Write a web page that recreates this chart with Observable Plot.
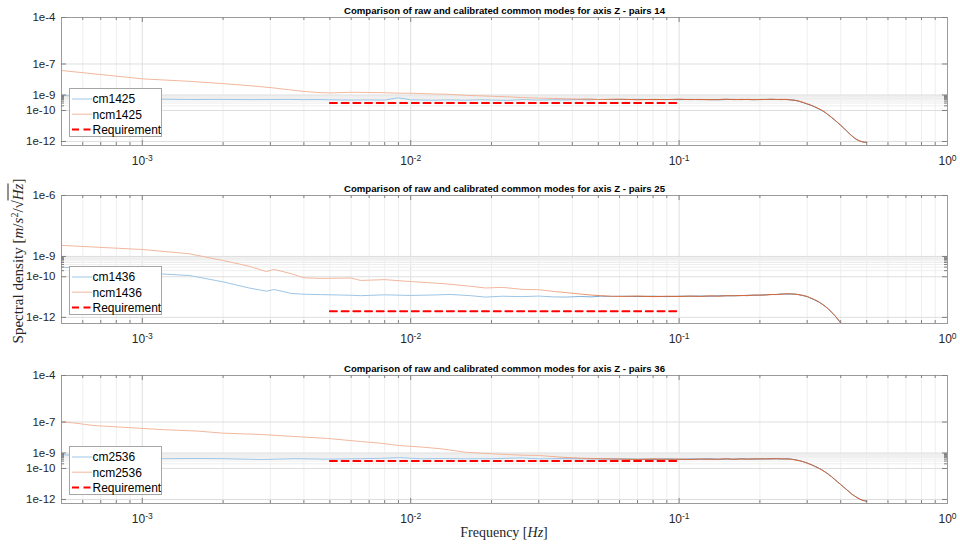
<!DOCTYPE html>
<html>
<head>
<meta charset="utf-8">
<script src="https://cdn.jsdelivr.net/npm/d3@7"></script>
<script src="https://cdn.jsdelivr.net/npm/@observablehq/plot@0.6"></script>
<style>
  body { margin: 0; background: #fff; }
  #fig { position: relative; width: 960px; height: 546px; overflow: hidden; background: #fff;
         font-family: "Liberation Sans", Arial, Helvetica, sans-serif; }
  .panel { position: absolute; left: 0; }
  .tex { position: absolute; font-family: "Liberation Serif", "Times New Roman", serif; font-size: 14px;
         color: #262626; white-space: nowrap; line-height: 1; }
  .tex sup { font-size: 10px; line-height: 0; vertical-align: 5px; }
  .ov { border-top: 1px solid #262626; padding-top: 1px; }
</style>
</head>
<body>
<div id="fig"></div>
<script>
// ---------------- data ----------------
const titles = [
  "Comparison of raw and calibrated common modes for axis Z - pairs 14",
  "Comparison of raw and calibrated common modes for axis Z - pairs 25",
  "Comparison of raw and calibrated common modes for axis Z - pairs 36"
];
const seriesNames = [["cm1425", "ncm1425"], ["cm1436", "ncm1436"], ["cm2536", "ncm2536"]];

const freq14 = [0.0005,0.001,0.0015,0.002,0.0025,0.003,0.0035,0.004,0.0045,0.005,0.006,0.007,0.008,0.009,0.010,0.012,0.014,0.016,0.018,0.020,0.023,0.026,0.030,0.034,0.038,0.042,0.046,0.050,0.06,0.07,0.08,0.09,0.10,0.11,0.12,0.13,0.14,0.15,0.16,0.17,0.18,0.19,0.20,0.21,0.22,0.23,0.24,0.25,0.26,0.27,0.28,0.29,0.30,0.31,0.32,0.33,0.34,0.35,0.36,0.37,0.38,0.39,0.40,0.41,0.42,0.43,0.44,0.45,0.46,0.47,0.48,0.49,0.50];
const ncm1425 = [3.8e-8,1.1e-8,7.6e-9,5.4e-9,4.0e-9,3.0e-9,2.2e-9,1.7e-9,1.45e-9,1.35e-9,1.5e-9,1.45e-9,1.4e-9,1.3e-9,1.3e-9,1.17e-9,1.1e-9,9.5e-10,8.9e-10,8.3e-10,7.6e-10,6.8e-10,6.3e-10,6.0e-10,5.6e-10,5.4e-10,5.5e-10,5.1e-10,
  5.4e-10,4.9e-10,5.2e-10,5.0e-10,5.4e-10,
  5.0e-10,5.2e-10,4.9e-10,5.1e-10,5.4e-10,5.0e-10,5.2e-10,5.1e-10,4.9e-10,5.2e-10,5.1e-10,5.4e-10,5.1e-10,5.2e-10,5.1e-10,
  4.9e-10,4.6e-10,4.0e-10,3.3e-10,2.7e-10,2.2e-10,1.74e-10,1.35e-10,1.05e-10,7.6e-11,5.2e-11,3.6e-11,2.45e-11,1.66e-11,1.12e-11,7.6e-12,5.0e-12,3.4e-12,2.35e-12,1.7e-12,1.32e-12,1.1e-12,9.8e-13,9.1e-13,8.9e-13];
const cm1425 = [9.3e-10,5.6e-10,5.1e-10,5.2e-10,5.0e-10,5.1e-10,5.2e-10,5.0e-10,5.1e-10,4.9e-10,4.7e-10,4.8e-10,4.7e-10,6.6e-10,4.9e-10,4.6e-10,4.8e-10,4.6e-10,4.9e-10,4.7e-10,4.5e-10,5.0e-10,4.7e-10,4.9e-10,4.8e-10,5.0e-10,4.9e-10,5.1e-10,
  5.1e-10,5.2e-10,5.0e-10,5.1e-10,5.0e-10,
  5.2e-10,5.0e-10,5.1e-10,4.9e-10,5.1e-10,5.2e-10,5.0e-10,5.2e-10,5.1e-10,5.0e-10,5.2e-10,5.1e-10,5.2e-10,5.0e-10,5.2e-10,
  4.8e-10,4.5e-10,3.9e-10,3.2e-10,2.6e-10,2.15e-10,1.7e-10,1.32e-10,1.02e-10,7.4e-11,5.1e-11,3.5e-11,2.4e-11,1.62e-11,1.1e-11,7.4e-12,4.9e-12,3.3e-12,2.3e-12,1.66e-12,1.29e-12,1.07e-12,9.5e-13,8.9e-13,8.7e-13];

const freq25 = [0.0005,0.001,0.0015,0.002,0.0025,0.0029,0.0031,0.0036,0.004,0.0046,0.006,0.0065,0.008,0.010,0.012,0.014,0.0167,0.019,0.022,0.026,0.030,0.034,0.038,0.043,0.047,0.051,0.056,0.06,0.07,0.08,0.09,0.10,0.11,0.12,0.13,0.14,0.15,0.16,0.17,0.18,0.19,0.20,0.21,0.22,0.23,0.24,0.25,0.26,0.27,0.28,0.29,0.30,0.31,0.32,0.33,0.34,0.35,0.36,0.37,0.38,0.39,0.40,0.41,0.42,0.43,0.44,0.45,0.46,0.47,0.48,0.49,0.50];
const ncm1436 = [3.5e-9,2.2e-9,1.35e-9,6.3e-10,3.3e-10,1.8e-10,2.3e-10,1.4e-10,8.9e-11,8.3e-11,8.7e-11,6.6e-11,7.2e-11,5.8e-11,5.0e-11,4.3e-11,3.4e-11,2.8e-11,3.0e-11,2.4e-11,2.3e-11,1.9e-11,1.66e-11,1.4e-11,1.26e-11,1.17e-11,1.1e-11,
  1.07e-11,1.12e-11,1.05e-11,1.1e-11,1.07e-11,
  1.12e-11,1.07e-11,1.15e-11,1.1e-11,1.17e-11,1.15e-11,1.2e-11,1.17e-11,1.26e-11,1.23e-11,1.29e-11,1.32e-11,1.35e-11,1.38e-11,1.45e-11,
  1.45e-11,1.38e-11,1.32e-11,1.2e-11,1.07e-11,8.9e-12,7.4e-12,6.0e-12,4.7e-12,3.5e-12,2.6e-12,1.8e-12,1.26e-12,8.3e-13,5.4e-13,3.5e-13,2.3e-13,1.5e-13,1.0e-13,6.3e-14,4.5e-14,3.2e-14,2.5e-14,2.0e-14,1.8e-14];
const cm1436 = [3.0e-10,1.55e-10,1.15e-10,5.6e-11,2.8e-11,1.95e-11,2.35e-11,1.5e-11,1.38e-11,1.32e-11,1.23e-11,1.17e-11,1.29e-11,1.2e-11,1.26e-11,1.35e-11,1.17e-11,1.0e-11,1.1e-11,1.05e-11,1.12e-11,1.02e-11,1.0e-11,1.07e-11,1.02e-11,1.1e-11,1.07e-11,
  1.1e-11,1.07e-11,1.1e-11,1.05e-11,1.1e-11,
  1.1e-11,1.12e-11,1.1e-11,1.15e-11,1.15e-11,1.17e-11,1.17e-11,1.23e-11,1.23e-11,1.26e-11,1.26e-11,1.35e-11,1.32e-11,1.41e-11,1.41e-11,
  1.41e-11,1.41e-11,1.29e-11,1.17e-11,1.05e-11,8.7e-12,7.2e-12,5.9e-12,4.6e-12,3.5e-12,2.6e-12,1.78e-12,1.23e-12,8.1e-13,5.2e-13,3.4e-13,2.2e-13,1.5e-13,1.0e-13,6.2e-14,4.4e-14,3.1e-14,2.5e-14,2.0e-14,1.8e-14];

const freq36 = [0.0005,0.00055,0.00066,0.0009,0.0012,0.0016,0.002,0.0028,0.0037,0.0049,0.0065,0.0077,0.0091,0.011,0.013,0.016,0.020,0.026,0.030,0.036,0.043,0.051,0.06,0.07,0.08,0.09,0.10,0.11,0.12,0.13,0.14,0.15,0.16,0.17,0.18,0.19,0.20,0.21,0.22,0.23,0.24,0.25,0.26,0.27,0.28,0.29,0.30,0.31,0.32,0.33,0.34,0.35,0.36,0.37,0.38,0.39,0.40,0.41,0.42,0.43,0.44,0.45,0.46,0.47,0.48,0.49,0.50];
const ncm2536 = [9.8e-8,8.9e-8,5.9e-8,4.3e-8,3.2e-8,2.6e-8,1.9e-8,1.55e-8,1.15e-8,8.7e-9,5.5e-9,4.3e-9,3.0e-9,2.4e-9,1.86e-9,1.12e-9,8.9e-10,7.2e-10,6.9e-10,5.4e-10,4.6e-10,4.3e-10,
  4.0e-10,3.8e-10,4.1e-10,3.9e-10,4.0e-10,
  3.8e-10,4.1e-10,3.9e-10,4.0e-10,4.2e-10,3.9e-10,4.1e-10,4.0e-10,4.2e-10,4.1e-10,4.2e-10,4.1e-10,4.3e-10,4.2e-10,4.1e-10,
  4.0e-10,3.6e-10,3.2e-10,2.7e-10,2.2e-10,1.78e-10,1.38e-10,1.07e-10,8.1e-11,5.9e-11,4.2e-11,2.9e-11,1.95e-11,1.32e-11,9.1e-12,6.3e-12,4.4e-12,3.1e-12,2.2e-12,1.7e-12,1.32e-12,1.07e-12,9.1e-13,8.1e-13,7.8e-13];
const cm2536 = [7.9e-10,6.9e-10,5.4e-10,4.5e-10,4.3e-10,4.4e-10,4.3e-10,3.8e-10,4.3e-10,4.0e-10,4.3e-10,4.5e-10,5.0e-10,4.2e-10,4.4e-10,4.2e-10,4.3e-10,4.8e-10,4.2e-10,4.3e-10,4.2e-10,4.1e-10,
  4.1e-10,4.0e-10,3.9e-10,4.1e-10,3.9e-10,
  4.1e-10,4.0e-10,4.2e-10,3.9e-10,4.1e-10,4.0e-10,4.2e-10,4.1e-10,4.0e-10,4.2e-10,4.1e-10,4.3e-10,4.2e-10,4.1e-10,4.2e-10,
  4.1e-10,3.7e-10,3.2e-10,2.75e-10,2.25e-10,1.8e-10,1.4e-10,1.1e-10,8.3e-11,6.0e-11,4.3e-11,3.0e-11,2.0e-11,1.35e-11,9.3e-12,6.5e-12,4.5e-12,3.2e-12,2.25e-12,1.72e-12,1.35e-12,1.1e-12,9.3e-13,8.3e-13,8.0e-13];

const reqFreq = [0.005, 0.1];
const reqLevels = [3e-10, 2e-12, 3e-10];

const xDomain = [5e-4, 1];
const yDomains = [[5.5e-13, 1e-4], [5e-13, 1e-6], [5.5e-13, 1e-4]];
const yTickSets = [[1e-12, 1e-10, 1e-9, 1e-7, 1e-4], [1e-12, 1e-10, 1e-9, 1e-6], [1e-12, 1e-10, 1e-9, 1e-7, 1e-4]];
const xTickLabels = [1e-3, 1e-2, 1e-1, 1];
const xMinor = [6e-4,7e-4,8e-4,9e-4,2e-3,3e-3,4e-3,5e-3,6e-3,7e-3,8e-3,9e-3,2e-2,3e-2,4e-2,5e-2,6e-2,7e-2,8e-2,9e-2,0.2,0.3,0.4,0.5,0.6,0.7,0.8,0.9];
const xMajor = [1e-3, 1e-2, 1e-1];
const yMinor = [2e-10,3e-10,4e-10,5e-10,6e-10,7e-10,8e-10,9e-10];

// ---------------- drawing ----------------
// colours: thin MATLAB lines look pale where sparse and dark where the PSD noise is dense
const BLUE_LIGHT = "#9cc5e6", BLUE_DARK = "#4f8fc8";
const ORANGE_LIGHT = "#f2b69c", ORANGE_DARK = "#db6631";
const panels = [
  {freq: freq14, cm: cm1425, ncm: ncm1425},
  {freq: freq25, cm: cm1436, ncm: ncm1436},
  {freq: freq36, cm: cm2536, ncm: ncm2536}
];
const fig = document.getElementById("fig");
const W = 960, MT = 17, MB = 33, ML = 61, MR = 13, PH = 128;
const H = MT + PH + MB, PW = W - ML - MR;
const tops = [0, 178, 358];
const axisGray = "#262626", frameGray = "#9b9b9b", tickGray = "#808080";

function gradientDefs(k) {
  return () => {
    const defs = d3.create("svg:defs");
    const mk = (id, light, dark) => {
      const g = defs.append("linearGradient").attr("id", id);
      g.append("stop").attr("offset", "0").attr("stop-color", light);
      g.append("stop").attr("offset", "0.6").attr("stop-color", light);
      g.append("stop").attr("offset", "0.72").attr("stop-color", dark);
      g.append("stop").attr("offset", "1").attr("stop-color", dark);
    };
    mk("bgrad" + k, BLUE_LIGHT, BLUE_DARK);
    mk("ograd" + k, ORANGE_LIGHT, ORANGE_DARK);
    return defs.node();
  };
}

panels.forEach((p, k) => {
  const cmRows = p.freq.map((f, i) => ({f, v: p.cm[i]}));
  const ncmRows = p.freq.map((f, i) => ({f, v: p.ncm[i]}));
  const reqRows = reqFreq.map(f => ({f, v: reqLevels[k]}));
  const yT = yTickSets[k];
  const svg = Plot.plot({
    width: W, height: H,
    marginTop: MT, marginBottom: MB, marginLeft: ML, marginRight: MR,
    style: {fontFamily: "'Liberation Sans', Arial, sans-serif", background: "white"},
    x: {type: "log", domain: xDomain, label: null},
    y: {type: "log", domain: yDomains[k], label: null},
    marks: [
      gradientDefs(k),
      Plot.ruleX(xMinor, {x: d => d, stroke: "#efefef"}),
      Plot.ruleX(xMajor, {x: d => d, stroke: "#dedede"}),
      Plot.ruleY(yMinor, {y: d => d, stroke: "#eeeeee"}),
      Plot.ruleY(yT, {y: d => d, stroke: "#dedede"}),
      Plot.line(cmRows, {x: "f", y: "v", stroke: `url(#bgrad${k})`, strokeWidth: 1, clip: true}),
      Plot.line(ncmRows, {x: "f", y: "v", stroke: `url(#ograd${k})`, strokeWidth: 1, clip: true}),
      Plot.line(reqRows, {x: "f", y: "v", stroke: "#ff0000", strokeWidth: 2, strokeDasharray: "7,4.7"}),
      Plot.frame({stroke: frameGray}),
      // inward tick marks (bottom/top)
      Plot.ruleX(xMajor, {x: d => d, stroke: tickGray, insetTop: PH - 5}),
      Plot.ruleX(xMajor, {x: d => d, stroke: tickGray, insetBottom: PH - 5}),
      Plot.ruleX(xMinor, {x: d => d, stroke: tickGray, insetTop: PH - 3}),
      Plot.ruleX(xMinor, {x: d => d, stroke: tickGray, insetBottom: PH - 3}),
      // inward tick marks (left/right)
      Plot.ruleY(yT, {y: d => d, stroke: tickGray, insetRight: PW - 5}),
      Plot.ruleY(yT, {y: d => d, stroke: tickGray, insetLeft: PW - 5}),
      Plot.ruleY(yMinor, {y: d => d, stroke: tickGray, insetRight: PW - 3}),
      Plot.ruleY(yMinor, {y: d => d, stroke: tickGray, insetLeft: PW - 3}),
      Plot.axisX(xTickLabels, {tickSize: 0, tickPadding: 11, fontSize: 12, fill: axisGray, label: null,
        tickFormat: d => String(Math.round(Math.log10(d)))}),
      Plot.axisY(yT, {tickSize: 0, tickPadding: 6, fontSize: 11.5, fill: axisGray, label: null,
        tickFormat: d => "1e" + Math.round(Math.log10(d))}),
      Plot.text([titles[k]], {text: d => d, frameAnchor: "top", dy: -7, lineAnchor: "middle",
        fontWeight: "bold", fontSize: 9.6, fill: "#000"})
    ]
  });
  svg.classList.add("panel");
  svg.style.top = tops[k] + "px";
  fig.appendChild(svg);

  // superscript exponents on x tick labels (10^n)
  d3.select(svg).selectAll('g[aria-label="x-axis tick label"] text').each(function () {
    const e = this.textContent;
    const t = d3.select(this);
    t.text(null);
    t.append("tspan").text("10");
    t.append("tspan").attr("dy", "-0.5em").attr("font-size", "8.5px").text(e);
  });

  // legend
  const lg = d3.select(fig).append("svg")
    .attr("width", 94).attr("height", 50)
    .style("position", "absolute").style("left", "69px").style("top", (tops[k] + MT + 71) + "px")
    .style("font-family", "'Liberation Sans', Arial, sans-serif");
  lg.append("rect").attr("x", 0.5).attr("y", 0.5).attr("width", 92).attr("height", 48)
    .attr("fill", "white").attr("stroke", "#a6a6a6");
  const entries = [
    {name: seriesNames[k][0], color: BLUE_LIGHT, w: 1, dash: null},
    {name: seriesNames[k][1], color: ORANGE_LIGHT, w: 1, dash: null},
    {name: "Requirement", color: "#ff0000", w: 2, dash: "7,4.5"}
  ];
  entries.forEach((e, i) => {
    const y = 11 + i * 15.2;
    lg.append("line").attr("x1", 3).attr("x2", 23).attr("y1", y).attr("y2", y)
      .attr("stroke", e.color).attr("stroke-width", e.w)
      .attr("stroke-dasharray", e.dash);
    lg.append("text").attr("x", 23.5).attr("y", y).attr("dy", "0.36em")
      .attr("font-size", 12).attr("fill", "#000").text(e.name);
  });
});

// axis titles (LaTeX-style)
const yl = document.createElement("div");
yl.className = "tex";
yl.style.fontSize = "15px";
yl.innerHTML = 'Spectral density [<i>m</i>/<i>s</i><sup>2</sup>/√<span class="ov"><i>Hz</i></span>]';
yl.style.left = "18px"; yl.style.top = "261px";
yl.style.transform = "translate(-50%,-50%) rotate(-90deg)";
fig.appendChild(yl);

const xl = document.createElement("div");
xl.className = "tex";
xl.innerHTML = 'Frequency [<i>Hz</i>]';
xl.style.left = "504px"; xl.style.top = "533px";
xl.style.transform = "translate(-50%,-50%)";
fig.appendChild(xl);
</script>
</body>
</html>
